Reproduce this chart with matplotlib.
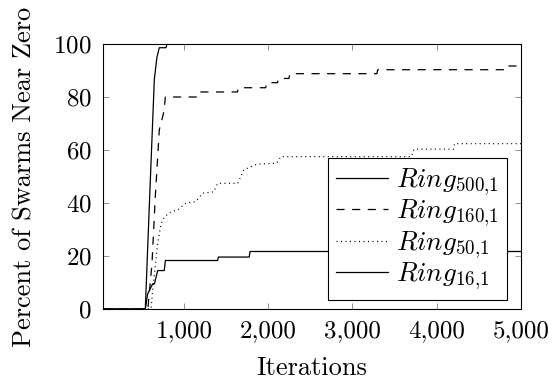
import matplotlib
matplotlib.use("Agg")
import matplotlib.pyplot as plt
from matplotlib.ticker import FuncFormatter

plt.rcParams['font.family'] = 'serif'
plt.rcParams['font.serif'] = ['cmr10']
plt.rcParams['mathtext.fontset'] = 'cm'
plt.rcParams['axes.unicode_minus'] = False
plt.rcParams['axes.formatter.use_mathtext'] = True

# data (iteration, percent)
ring500_x = [40, 542, 591, 649, 680, 708, 787, 800, 5000]
ring500_y = [0, 0, 40, 86.6, 95, 98.6, 98.6, 100, 100]

ring160_x = [40, 572, 621, 660, 708, 767, 779, 1174, 1190, 1635, 1650, 1970,
             1985, 2110, 2125, 2245, 2260, 3290, 3300, 4810, 4820, 4990, 5000]
ring160_y = [0, 0, 17, 42, 67.6, 75, 80, 80, 81.9, 81.9, 83.5, 83.5,
             85.4, 85.4, 87, 87, 88.8, 88.8, 90.3, 90.3, 91.7, 91.7, 92]

ring50_x = [40, 610, 629, 689, 728, 767, 846, 925, 1024, 1142, 1221, 1355,
            1400, 1640, 1710, 1870, 2100, 2150, 3700, 3730, 4200, 4210, 5000]
ring50_y = [0, 0, 7, 24.7, 32, 34.7, 36.7, 37.3, 40, 40.5, 43.7, 44.2,
            47.4, 47.4, 52.5, 54.7, 55, 57.5, 57.5, 60.3, 60.3, 62.4, 62.4]

ring16_x = [40, 542, 570, 629, 650, 689, 767, 780, 1400, 1410, 1775, 1785, 5000]
ring16_y = [0, 0, 5.7, 9.5, 9.5, 14.5, 14.5, 18.3, 18.3, 19.6, 19.6, 21.7, 21.7]

labels = [r'$Ring_{500{,}1}\;$', r'$Ring_{160{,}1}\;$',
          r'$Ring_{50{,}1}\;$', r'$Ring_{16{,}1}\;$']

x_ticks = [1000, 2000, 3000, 4000, 5000]
y_ticks = [0, 20, 40, 60, 80, 100]

fig = plt.figure(figsize=(5.53, 3.85), dpi=100)
ax = fig.add_axes([103 / 553, 1 - 309 / 385, 418 / 553, 265 / 385])

lw = 0.9
ax.plot(ring500_x, ring500_y, color='black', lw=lw, label=labels[0])
ax.plot(ring160_x, ring160_y, color='black', lw=lw, linestyle=(0, (6.5, 6)),
        label=labels[1])
ax.plot(ring50_x, ring50_y, color='black', lw=lw, linestyle=(0, (0.8, 2.8)),
        label=labels[2])
ax.plot(ring16_x, ring16_y, color='black', lw=lw, label=labels[3])

ax.set_xlim(40, 5000)
ax.set_ylim(0, 100)
ax.set_xticks(x_ticks)
ax.set_yticks(y_ticks)
ax.xaxis.set_major_formatter(FuncFormatter(lambda v, p: f"{v:,.0f}"))
ax.tick_params(direction='in', length=4, width=0.6, color='#808080',
               top=True, right=True, labelsize=18, pad=8)
for s in ax.spines.values():
    s.set_linewidth(0.8)

ax.set_xlabel('Iterations', fontsize=19, labelpad=10)
ax.set_ylabel('Percent of Swarms Near Zero', fontsize=19, labelpad=12)

leg = ax.legend(loc='lower right', bbox_to_anchor=(0.966, 0.034),
                borderaxespad=0, fancybox=False, framealpha=1,
                edgecolor='black', fontsize=19.5, handlelength=1.9,
                handletextpad=0.3, labelspacing=0.0, borderpad=0.3)
leg.get_frame().set_linewidth(0.8)

fig.savefig('out.png', dpi=100)
